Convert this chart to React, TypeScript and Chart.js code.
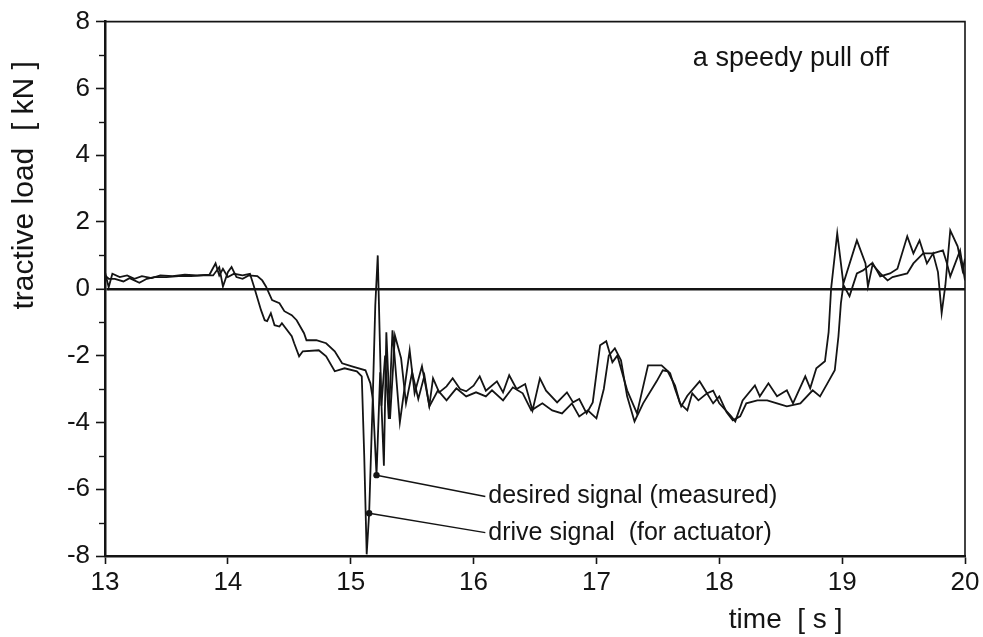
import React, { useEffect, useRef } from "react";
import { Chart, registerables } from "chart.js";

Chart.register(...registerables);

// Drive signal (for actuator): time [s] and tractive load [kN]
const driveTime = [
  13.0, 13.03, 13.06, 13.12, 13.18, 13.24, 13.3, 13.38, 13.45, 13.55,
  13.65, 13.75, 13.85, 13.9, 13.93, 13.96, 14.0, 14.05, 14.12, 14.18,
  14.21, 14.27, 14.3, 14.32, 14.35, 14.38, 14.42, 14.44, 14.52, 14.54,
  14.58, 14.61, 14.74, 14.8, 14.87, 14.95, 15.05, 15.09, 15.11, 15.13,
  15.15, 15.18, 15.2, 15.22, 15.25, 15.28, 15.31, 15.34, 15.4, 15.48,
  15.52, 15.58, 15.64, 15.67, 15.72, 15.78, 15.83, 15.89, 15.94, 16.0,
  16.05, 16.1, 16.19, 16.24, 16.29, 16.35, 16.42, 16.48, 16.54, 16.59,
  16.68, 16.76, 16.81, 16.86, 16.92, 16.97, 17.03, 17.08, 17.13, 17.17,
  17.25, 17.33, 17.42, 17.53, 17.6, 17.64, 17.69, 17.74, 17.84, 17.9,
  17.95, 18.0, 18.09, 18.13, 18.19, 18.29, 18.33, 18.4, 18.47, 18.55,
  18.6, 18.7, 18.74, 18.79, 18.86, 18.89, 18.91, 18.96, 19.01, 19.12,
  19.19, 19.21, 19.25, 19.31, 19.39, 19.45, 19.53, 19.58, 19.63, 19.69,
  19.74, 19.78, 19.81, 19.84, 19.88, 19.94, 19.98, 20.0,
];
const driveLoad = [
  0.5, 0.05, 0.45, 0.35, 0.4, 0.3, 0.38, 0.32, 0.4, 0.38,
  0.42, 0.4, 0.42, 0.76, 0.4, 0.6, 0.35, 0.45, 0.4, 0.45,
  0.1, -0.64, -0.94, -0.97, -0.73, -1.09, -1.13, -1.03, -1.42, -1.63,
  -2.02, -1.87, -1.84, -2.02, -2.47, -2.38, -2.47, -2.62, -5.0, -7.95,
  -6.72, -3.2, -0.5, 1.0, -3.5, -2.0, -3.9, -1.24, -4.0, -1.84,
  -3.13, -2.32, -3.5, -2.68, -3.1, -2.92, -2.68, -3.0, -3.07, -2.9,
  -2.62, -3.05, -2.77, -3.1, -2.59, -3.0, -2.85, -3.64, -2.68, -3.05,
  -3.4, -3.1, -3.4, -3.3, -3.73, -3.4, -1.69, -1.57, -2.2, -2.0,
  -3.04, -3.73, -2.29, -2.29, -2.53, -3.0, -3.52, -3.2, -2.77, -3.13,
  -3.05, -3.43, -3.79, -3.97, -3.34, -2.89, -3.22, -2.83, -3.22, -3.04,
  -3.43, -2.62, -2.98, -2.38, -2.17, -1.3, 0.0, 1.66, 0.16, 1.45,
  0.76, 0.07, 0.76, 0.37, 0.46, 0.6, 1.57, 1.06, 1.45, 0.76,
  1.06, 0.5, -0.73, 0.1, 1.75, 1.27, 0.55, 0.9,
];

// Desired signal (measured): time [s] and tractive load [kN]
const desiredTime = [
  13.0, 13.03, 13.08, 13.15, 13.2, 13.28, 13.34, 13.4, 13.5, 13.6,
  13.7, 13.8, 13.88, 13.93, 13.96, 14.0, 14.03, 14.07, 14.12, 14.17,
  14.24, 14.28, 14.31, 14.36, 14.42, 14.46, 14.52, 14.56, 14.62, 14.64,
  14.72, 14.8, 14.87, 14.93, 15.01, 15.12, 15.16, 15.18, 15.21, 15.24,
  15.27, 15.29, 15.32, 15.36, 15.41, 15.45, 15.5, 15.55, 15.6, 15.64,
  15.71, 15.78, 15.86, 15.94, 16.02, 16.1, 16.15, 16.24, 16.32, 16.4,
  16.47, 16.56, 16.64, 16.72, 16.8, 16.86, 16.93, 17.0, 17.06, 17.1,
  17.15, 17.2, 17.25, 17.31, 17.38, 17.49, 17.54, 17.58, 17.64, 17.68,
  17.74, 17.78, 17.83, 17.9, 17.95, 18.0, 18.06, 18.11, 18.17, 18.22,
  18.31, 18.39, 18.47, 18.55, 18.66, 18.76, 18.82, 18.88, 18.94, 18.97,
  18.99, 19.01, 19.06, 19.12, 19.17, 19.24, 19.31, 19.37, 19.41, 19.53,
  19.58, 19.66, 19.74, 19.82, 19.85, 19.88, 19.96, 20.0,
];
const desiredLoad = [
  0.4, 0.3, 0.3, 0.22, 0.32, 0.18, 0.3, 0.35, 0.35, 0.38,
  0.38, 0.4, 0.4, 0.65, 0.07, 0.5, 0.65, 0.35, 0.3, 0.4,
  0.38, 0.25, 0.07, -0.34, -0.43, -0.67, -0.79, -0.94, -1.33, -1.54,
  -1.54, -1.63, -1.87, -2.23, -2.32, -2.44, -2.83, -3.3, -5.58, -2.5,
  -5.3, -1.3, -3.9, -1.4, -2.08, -3.43, -2.5, -3.3, -2.6, -3.52,
  -3.04, -3.34, -2.98, -3.22, -3.1, -3.22, -3.04, -3.34, -2.95, -3.13,
  -3.64, -3.43, -3.64, -3.73, -3.43, -3.82, -3.64, -3.88, -3.0, -2.0,
  -1.78, -2.14, -3.22, -3.97, -3.43, -2.77, -2.44, -2.47, -2.9, -3.43,
  -3.64, -3.13, -3.34, -3.13, -3.43, -3.22, -3.7, -3.94, -3.82, -3.43,
  -3.34, -3.34, -3.43, -3.52, -3.43, -3.04, -3.22, -2.83, -2.44, -1.42,
  -0.43, 0.12, -0.22, 0.46, 0.55, 0.76, 0.46, 0.25, 0.35, 0.46,
  0.76, 1.06, 1.06, 1.15, 0.8, 0.37, 1.15, 0.25,
];

const xTickValues = [13, 14, 15, 16, 17, 18, 19, 20];
const yMajorTicks = [-8, -6, -4, -2, 0, 2, 4, 6, 8];
const yMinorTicks = [-7, -5, -3, -1, 1, 3, 5, 7];

const desiredLabel = "desired signal (measured)";
const driveLabel = "drive signal  (for actuator)";
const caption = "a speedy pull off";
const xTitle = "time  [ s ]";
const yTitle = "tractive load  [ kN ]";

// Points on each trace that the labels point at
const desiredMark = desiredTime.indexOf(15.21);
const driveMark = driveTime.indexOf(15.15);

const FONT = '"Liberation Sans", Arial, Helvetica, sans-serif';
const INK = "#141414";

const toPoints = (t: number[], v: number[]) => t.map((x, i) => ({ x, y: v[i] }));

const decorations = {
  id: "decorations",
  afterDraw(chart: any) {
    const { ctx, chartArea: a, scales } = chart;
    const x = scales.x;
    const y = scales.y;
    ctx.save();
    ctx.strokeStyle = INK;
    ctx.fillStyle = INK;

    // upper and right edges of the frame
    ctx.lineWidth = 1.6;
    ctx.beginPath();
    ctx.moveTo(a.left, a.top);
    ctx.lineTo(a.right, a.top);
    ctx.lineTo(a.right, a.bottom);
    ctx.stroke();

    // minor ticks on the load axis
    ctx.lineWidth = 1.4;
    yMinorTicks.forEach((v) => {
      const py = Math.round(y.getPixelForValue(v)) + 0.5;
      ctx.beginPath();
      ctx.moveTo(a.left - 6, py);
      ctx.lineTo(a.left, py);
      ctx.stroke();
    });

    // caption in the upper right
    ctx.font = `27px ${FONT}`;
    ctx.textAlign = "left";
    ctx.textBaseline = "alphabetic";
    ctx.fillText(caption, x.getPixelForValue(17.785), y.getPixelForValue(6.67));

    // labelled traces with leader lines
    const notes = [
      { text: desiredLabel, px: x.getPixelForValue(desiredTime[desiredMark]), py: y.getPixelForValue(desiredLoad[desiredMark]), ty: y.getPixelForValue(-6.22) },
      { text: driveLabel, px: x.getPixelForValue(driveTime[driveMark]), py: y.getPixelForValue(driveLoad[driveMark]), ty: y.getPixelForValue(-7.3) },
    ];
    const textLeft = x.getPixelForValue(16.12);
    ctx.font = `25px ${FONT}`;
    ctx.textBaseline = "middle";
    notes.forEach((n) => {
      ctx.lineWidth = 1.5;
      ctx.beginPath();
      ctx.moveTo(n.px, n.py);
      ctx.lineTo(textLeft - 3, n.ty);
      ctx.stroke();
      ctx.beginPath();
      ctx.arc(n.px, n.py, 3.2, 0, Math.PI * 2);
      ctx.fill();
      ctx.fillText(n.text, textLeft, n.ty);
    });

    // axis titles
    ctx.font = `28px ${FONT}`;
    ctx.textAlign = "center";
    ctx.textBaseline = "middle";
    ctx.fillText(xTitle, x.getPixelForValue(18.54), a.bottom + 64);
    ctx.font = `30px ${FONT}`;
    ctx.save();
    ctx.translate(a.left - 80, y.getPixelForValue(3.1));
    ctx.rotate(-Math.PI / 2);
    ctx.fillText(yTitle, 0, 0);
    ctx.restore();

    ctx.restore();
  },
};

export default function App() {
  const canvasRef = useRef<HTMLCanvasElement | null>(null);

  useEffect(() => {
    if (!canvasRef.current) return;
    const tickFont = { family: FONT, size: 26 };
    const chart = new Chart(canvasRef.current, {
      type: "line",
      data: {
        datasets: [
          {
            label: driveLabel,
            data: toPoints(driveTime, driveLoad),
            borderColor: INK,
            borderWidth: 1.8,
            pointRadius: 0,
            tension: 0,
            fill: false,
          },
          {
            label: desiredLabel,
            data: toPoints(desiredTime, desiredLoad),
            borderColor: INK,
            borderWidth: 1.8,
            pointRadius: 0,
            tension: 0,
            fill: false,
          },
        ],
      },
      options: {
        animation: false,
        responsive: true,
        maintainAspectRatio: false,
        layout: { padding: { top: 17, right: 18, left: 0, bottom: 0 } },
        plugins: { legend: { display: false }, tooltip: { enabled: false } },
        scales: {
          x: {
            type: "linear",
            min: 13,
            max: 20,
            afterBuildTicks: (s: any) => {
              s.ticks = xTickValues.map((value) => ({ value }));
            },
            afterFit: (s: any) => {
              s.height = 81;
            },
            ticks: { font: tickFont, color: INK, padding: 3, maxRotation: 0, autoSkip: false },
            grid: { drawOnChartArea: false, drawTicks: true, tickLength: 8, tickColor: INK, tickWidth: 1.6 },
            border: { display: true, color: INK, width: 2.5 },
          },
          y: {
            type: "linear",
            min: -8,
            max: 8,
            afterBuildTicks: (s: any) => {
              s.ticks = yMajorTicks.map((value) => ({ value }));
            },
            afterFit: (s: any) => {
              s.width = 105;
            },
            ticks: { font: tickFont, color: INK, padding: 6 },
            grid: {
              drawOnChartArea: true,
              color: (c: any) => (c.tick && c.tick.value === 0 ? INK : "rgba(0,0,0,0)"),
              lineWidth: (c: any) => (c.tick && c.tick.value === 0 ? 2.6 : 1),
              drawTicks: true,
              tickLength: 9,
              tickColor: INK,
              tickWidth: 1.6,
            },
            border: { display: true, color: INK, width: 2.5 },
          },
        },
      },
      plugins: [decorations],
    });
    return () => chart.destroy();
  }, []);

  return (
    <div style={{ position: "absolute", left: 0, top: 0, width: 983, height: 637, background: "#fff" }}>
      <canvas ref={canvasRef} />
    </div>
  );
}
